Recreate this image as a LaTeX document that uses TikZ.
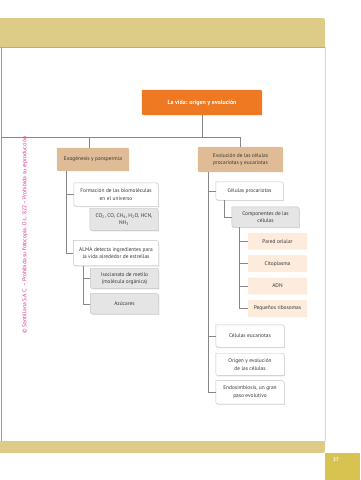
\documentclass[tikz,border=0pt]{standalone}
\usepackage{fontspec}
\setmainfont{PT Sans}
\usetikzlibrary{positioning,backgrounds}
\definecolor{vidaorange}{RGB}{238,121,34}
\definecolor{cattan}{RGB}{223,188,150}
\definecolor{peachfill}{RGB}{253,235,219}
\definecolor{leafgray}{RGB}{229,229,229}
\definecolor{boxline}{RGB}{196,196,196}
\definecolor{wiregray}{RGB}{135,135,135}
\definecolor{khaki}{RGB}{221,204,136}
\definecolor{khakidark}{RGB}{196,176,88}
\definecolor{frameolive}{RGB}{176,160,70}
\definecolor{pagegold}{RGB}{217,195,80}
\definecolor{legal}{RGB}{226,40,145}
\definecolor{txt}{RGB}{55,55,55}
\newcommand{\boxfont}{\fontsize{5.4}{7.4}\selectfont}
\newcommand{\tabpath}[1]{(#1.north west) -- ([xshift=-5pt]#1.north east) .. controls (#1.north east) .. ([yshift=-5pt]#1.north east) -- (#1.south east) -- ([xshift=5pt]#1.south west) .. controls (#1.south west) .. ([yshift=5pt]#1.south west) -- cycle}
\tikzset{
  box/.style={align=center, inner sep=1.5pt, text=txt, font=\boxfont},
  rootbox/.style={box, text=white, font=\fontsize{6}{7.4}\selectfont\bfseries},
  wire/.style={draw=wiregray, line width=0.6pt},
  rootfill/.style={fill=vidaorange},
  catfill/.style={fill=cattan},
  whitefill/.style={fill=white, draw=boxline, line width=0.4pt},
  grayfill/.style={fill=leafgray, draw=boxline, line width=0.4pt},
  peachbox/.style={fill=peachfill},
  boxshadow/.style={fill=black!13, transform canvas={xshift=0.6pt,yshift=-0.8pt}}
}
\begin{document}
\begin{tikzpicture}[x=1pt,y=1pt]
\useasboundingbox (0,0) rectangle (360,-480);
% page frame
\fill[khaki] (0,-18) -- (320,-18) .. controls (325,-18) .. (325,-23) -- (325,-47) -- (0,-47) -- cycle;
\draw[khakidark, line width=0.8pt] (0,-47) -- (325,-47);
\draw[frameolive, line width=0.8pt] (1.5,-47) -- (1.5,-441);
\draw[khaki!70, line width=0.6pt] (325,-47) -- (325,-441);
\fill[khaki] (0,-441) -- (325,-441) -- (325,-448) .. controls (325,-453) .. (320,-453) -- (0,-453) -- cycle;
\fill[pagegold] (325,-453) rectangle (360,-480);
\node[font=\fontsize{5}{6}\selectfont\bfseries, text=white] (pagenum) at (336,-460) {37};
\node[rotate=90, text=legal, font=\fontsize{5.6}{6}\selectfont] (legaltext) at (25,-235) {© Santillana S.A.C. – Prohibida su fotocopia. D.L. 822 – Prohibida su reproducción};

% tree
\node[rootbox, minimum width=120pt, minimum height=25pt] (root) at (202,-102.5) {La vida: origen y evolución};
\node[box, minimum width=72pt, minimum height=23pt] (exo) at (93,-159.5) {Exogénesis y panspermia};
\node[box, minimum width=85pt, minimum height=25pt] (evol) at (240.5,-159.5) {Evolución de las células\\procariotas y eucariotas};

\node[box, minimum width=84pt, minimum height=23pt] (biomol) at (116,-194.5) {Formación de las biomoléculas\\en el universo};
\node[box, minimum width=68pt, minimum height=22pt, below left=2pt and 0pt of biomol.south east, anchor=north east] (molec) {CO\textsubscript{2}, CO, CH\textsubscript{4}, H\textsubscript{2}O, HCN,\\NH\textsubscript{3}};
\node[box, minimum width=85pt, minimum height=25pt] (alma) at (116,-253) {ALMA detecta ingredientes para\\la vida alrededor de estrellas};
\node[box, minimum width=68pt, minimum height=20pt, below left=2.5pt and 0pt of alma.south east, anchor=north east] (iso) {Isocianato de metilo\\(molécula orgánica)};
\node[box, minimum width=68pt, minimum height=20pt, below=5pt of iso] (azucar) {Azúcares};

\node[box, minimum width=67pt, minimum height=18pt] (procar) at (249.5,-191) {Células procariotas};
\node[box, minimum width=67pt, minimum height=20pt] (compon) at (265.5,-217) {Componentes de las\\células};
\node[box, minimum width=59pt, minimum height=16.5pt] (pared) at (277.5,-241.25) {Pared celular};
\node[box, minimum width=59pt, minimum height=16.5pt, below=5.5pt of pared] (cito) {Citoplasma};
\node[box, minimum width=59pt, minimum height=16.5pt, below=5.5pt of cito] (adn) {ADN};
\node[box, minimum width=59pt, minimum height=16.5pt, below=5.5pt of adn] (ribo) {Pequeños ribosomas};
\node[box, minimum width=68pt, minimum height=22pt] (eucar) at (250,-336) {Células eucariotas};
\node[box, minimum width=68pt, minimum height=22pt, below=6pt of eucar] (origen) {Origen y evolución\\de las células};
\node[box, minimum width=68pt, minimum height=23pt, below=5pt of origen] (endo) {Endosimbiosis, un gran\\paso evolutivo};

% connectors
\coordinate (bus) at (1.5,-137);
\draw[wire] (root.south) -- (root.south |- bus);
\draw[wire] (bus) -- (evol.north |- bus) -- (evol.north);
\draw[wire] ([xshift=-4pt]exo.north |- bus) -- ([xshift=-4pt]exo.north);
\draw[wire] ([xshift=9pt]exo.south west) |- (biomol.west);
\draw[wire] ([xshift=9pt]exo.south west) |- (alma.west);
\draw[wire] ([xshift=10pt]alma.south west) |- (iso.west);
\draw[wire] ([xshift=10pt]alma.south west) |- (azucar.west);
\foreach \n in {procar,eucar,endo}
  \draw[wire] ([xshift=10pt]evol.south west) |- (\n.west);
\draw[wire] ([xshift=8pt]procar.south west) |- (compon.west);
\foreach \n in {pared,cito,adn,ribo}
  \draw[wire] ([xshift=7pt]compon.south west) |- (\n.west);

% box backgrounds
\begin{scope}[on background layer]
\foreach \n in {biomol,molec,alma,iso,azucar,procar,compon,eucar,origen,endo}
  \path[boxshadow] \tabpath{\n};
\foreach \n/\k in {root/rootfill,exo/catfill,evol/catfill,biomol/whitefill,alma/whitefill,molec/grayfill,iso/grayfill,azucar/grayfill,procar/whitefill,compon/grayfill,eucar/whitefill,origen/whitefill,endo/whitefill,pared/peachbox,cito/peachbox,adn/peachbox,ribo/peachbox}
  \path[\k] \tabpath{\n};
\end{scope}
\end{tikzpicture}
\end{document}
